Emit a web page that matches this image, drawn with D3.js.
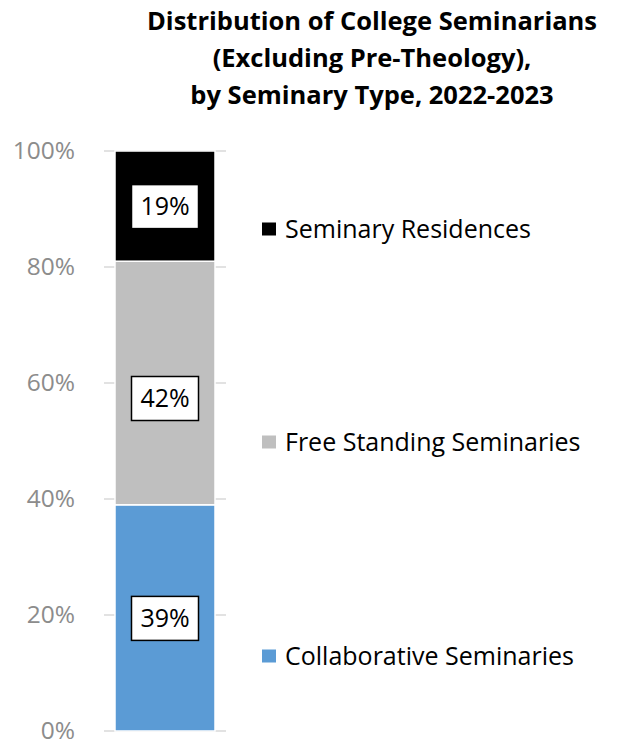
<!DOCTYPE html>
<html>
<head>
<meta charset="utf-8">
<script src="https://cdn.jsdelivr.net/npm/d3@7"></script>
<style>
  html, body { margin: 0; padding: 0; background: #fff; }
  svg { display: block; }
</style>
</head>
<body>
<svg id="chart" width="618" height="741"></svg>
<script>
const titleLines = ["Distribution of College Seminarians", "(Excluding Pre-Theology),", "by Seminary Type, 2022-2023"];
const categories = ["2022-2023"];
const seriesNames = ["Collaborative Seminaries", "Free Standing Seminaries", "Seminary Residences"];
const seriesValues = [0.39, 0.42, 0.19];
const seriesColors = ["#5b9bd5", "#bfbfbf", "#000000"];
const yTicks = [0, 0.2, 0.4, 0.6, 0.8, 1.0];

const svg = d3.select("#chart");
const font = "'Open Sans', Lato, sans-serif";

// Title
svg.append("g").selectAll("text").data(titleLines).join("text")
  .attr("x", 372).attr("y", (d, i) => 30 + i * 37)
  .attr("text-anchor", "middle")
  .style("font-family", font).style("font-weight", "bold").style("font-size", "25.5px")
  .attr("fill", "#000").text(d => d);

const y = d3.scaleLinear().domain([0, 1]).range([731, 151]);
const x = d3.scaleBand().domain(categories).range([104, 226]).paddingInner(0).paddingOuter(0.11);

// gridlines
svg.append("g").selectAll("line").data(yTicks).join("line")
  .attr("x1", 104).attr("x2", 226)
  .attr("y1", d => y(d)).attr("y2", d => y(d))
  .attr("stroke", "#d9d9d9").attr("stroke-width", 1.5);

// axis
const ax = svg.append("g").attr("transform", "translate(104,0)")
  .call(d3.axisLeft(y).tickValues(yTicks).tickFormat(d3.format(".0%")).tickSize(0).tickPadding(29));
ax.select(".domain").remove();
ax.selectAll("text").attr("dy", "0.32em").style("font-family", font).style("font-size", "24.5px").attr("fill", "#8c8c8c");

// stacked data
const row = {cat: categories[0]};
seriesNames.forEach((s, i) => row[s] = seriesValues[i]);
const stack = d3.stack().keys(seriesNames)([row]);

svg.append("g").selectAll("rect").data(stack).join("rect")
  .attr("x", x(categories[0]))
  .attr("width", x.bandwidth())
  .attr("y", d => y(d[0][1]))
  .attr("height", d => y(d[0][0]) - y(d[0][1]))
  .attr("fill", (d, i) => seriesColors[i])
  .attr("stroke", "#fff").attr("stroke-width", 1.5);

// labels
const labelOffsets = [0, 15, 0];
const lg = svg.append("g").selectAll("g").data(stack).join("g")
  .attr("transform", (d, i) => `translate(${x(categories[0]) + x.bandwidth() / 2},${(y(d[0][0]) + y(d[0][1])) / 2 + labelOffsets[i]})`);
lg.append("rect").attr("x", -33.5).attr("y", -21.5).attr("width", 67).attr("height", 44)
  .attr("fill", "#fff").attr("stroke", "#000").attr("stroke-width", 1.5);
lg.append("text").attr("text-anchor", "middle").attr("dy", "0.36em")
  .style("font-family", font).style("font-size", "25px").attr("fill", "#000")
  .text((d, i) => d3.format(".0%")(seriesValues[i]));

// legend
const legendY = [656, 442, 229];
const leg = svg.append("g").selectAll("g").data(seriesNames).join("g")
  .attr("transform", (d, i) => `translate(262,${legendY[i]})`);
leg.append("rect").attr("x", 0).attr("y", -6.5).attr("width", 14).attr("height", 13)
  .attr("fill", (d, i) => seriesColors[i]);
leg.append("text").attr("x", 23).attr("dy", "0.36em")
  .style("font-family", font).style("font-size", "25px").attr("fill", "#000")
  .text(d => d);
</script>
</body>
</html>
